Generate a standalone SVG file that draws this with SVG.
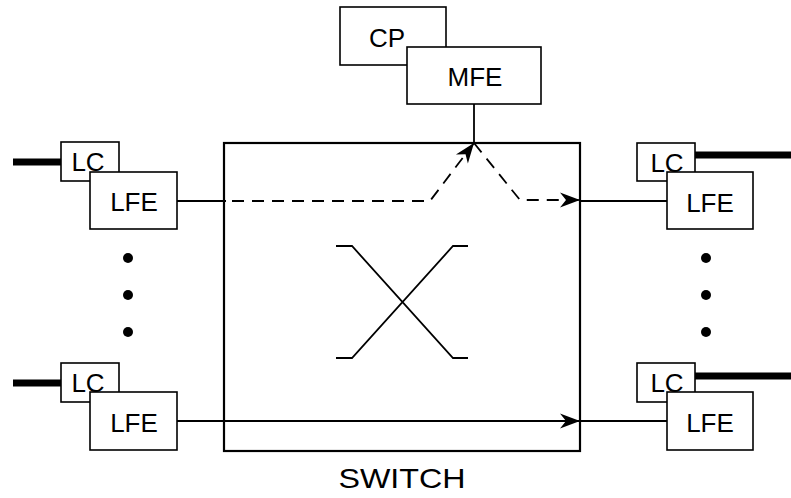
<svg xmlns="http://www.w3.org/2000/svg" width="791" height="498" viewBox="0 0 791 498">
<defs>
<marker id="arr" markerUnits="userSpaceOnUse" markerWidth="24" markerHeight="20" viewBox="-22 -10 24 20" refX="0" refY="0" orient="auto">
<path d="M0,0 L-20,-7.5 L-14,0 L-20,7.5 Z" fill="#000"/>
</marker>
<style>
.box{fill:#fff;stroke:#000;stroke-width:1.6}
.sw{fill:none;stroke:#000;stroke-width:2.2}
.lbl{font-family:"Liberation Sans",Arial,sans-serif;font-size:26px;text-anchor:middle;fill:#000}
.ln{fill:none;stroke:#000;stroke-width:1.8}
.thick{fill:none;stroke:#000;stroke-width:7}
.dash{fill:none;stroke:#000;stroke-width:1.8;stroke-dasharray:12 8}
</style>
</defs>
<rect width="791" height="498" fill="#fff"/>
<g id="switch">
<rect class="sw" x="224" y="143" width="356" height="308"/>
<path class="ln" d="M336,246 H352 L453,358 H468 M468,246 H453 L352,358 H336" stroke-width="1.6"/>
<text class="lbl" x="402" y="488" style="font-size:28px" textLength="127" lengthAdjust="spacingAndGlyphs">SWITCH</text>
</g>
<g id="connectors">
<path class="thick" d="M13,162 H61"/>
<path class="thick" d="M13,383 H61"/>
<path class="thick" d="M695,155 H791"/>
<path class="thick" d="M695,376 H791"/>
<path class="ln" d="M177,201 H226"/>
<path class="dash" d="M232,201 H430 L474,143" marker-end="url(#arr)"/>
<path class="dash" d="M474,143 L520,200 H580" marker-end="url(#arr)"/>
<path class="ln" d="M580,201 H667"/>
<path class="ln" d="M177,421 H580" marker-end="url(#arr)"/>
<path class="ln" d="M580,421 H667"/>
<path class="ln" d="M474,104 V143" stroke-width="1"/>
</g>
<g id="cp"><rect class="box" x="340" y="7" width="106" height="58"/><text class="lbl" x="387" y="47">CP</text></g>
<g id="mfe"><rect class="box" x="407" y="47" width="134" height="57"/><text class="lbl" x="475" y="86">MFE</text></g>
<g id="lc-tl"><rect class="box" x="61" y="142" width="58" height="39"/><text class="lbl" x="88" y="171">LC</text></g>
<g id="lfe-tl"><rect class="box" x="90" y="172" width="87" height="57"/><text class="lbl" x="134" y="211">LFE</text></g>
<g id="lc-bl"><rect class="box" x="61" y="363" width="58" height="39"/><text class="lbl" x="88" y="392">LC</text></g>
<g id="lfe-bl"><rect class="box" x="90" y="392" width="87" height="58"/><text class="lbl" x="134" y="432">LFE</text></g>
<g id="lc-tr"><rect class="box" x="637" y="143" width="58" height="38"/><text class="lbl" x="667" y="172">LC</text></g>
<g id="lfe-tr"><rect class="box" x="667" y="172" width="86" height="57"/><text class="lbl" x="710" y="212">LFE</text></g>
<g id="lc-br"><rect class="box" x="637" y="363" width="58" height="39"/><text class="lbl" x="667" y="392">LC</text></g>
<g id="lfe-br"><rect class="box" x="667" y="392" width="86" height="58"/><text class="lbl" x="710" y="432">LFE</text></g>
<g id="dots-left" fill="#000"><circle cx="128" cy="258" r="5"/><circle cx="128" cy="295" r="5"/><circle cx="128" cy="332" r="5"/></g>
<g id="dots-right" fill="#000"><circle cx="706" cy="258" r="5"/><circle cx="706" cy="295" r="5"/><circle cx="706" cy="332" r="5"/></g>
</svg>
